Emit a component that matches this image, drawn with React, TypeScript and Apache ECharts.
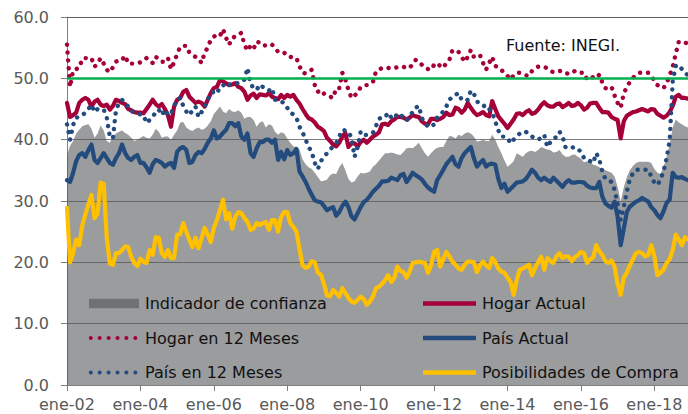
import React, { useEffect, useRef } from "react";
import * as echarts from "echarts";

const meses = ["ene", "feb", "mar", "abr", "may", "jun", "jul", "ago", "sep", "oct", "nov", "dic"];
const anios = ["02", "03", "04", "05", "06", "07", "08", "09", "10", "11", "12", "13", "14", "15", "16", "17", "18"];
const categorias = anios.flatMap((a) => meses.map((m) => `${m}-${a}`));

// Indicador de confianza (área)
const indicadorConfianza = [
  37.5, 39.0, 39.8, 41.0, 41.6, 42.2, 42.4, 42.5, 41.8, 40.3, 41.0, 42.3,
  41.5, 39.8, 39.5, 40.5, 41.0, 41.3, 41.5, 41.1, 40.8, 40.3, 39.8, 40.0,
  40.3, 40.6, 40.3, 40.2, 40.8, 41.8, 41.3, 40.3, 40.5, 40.5, 40.0, 40.8,
  41.5, 42.8, 42.9, 42.0, 41.6, 41.4, 41.8, 42.0, 41.6, 41.8, 42.3, 43.0,
  44.2, 44.8, 45.4, 44.6, 44.3, 45.0, 44.6, 44.5, 44.8, 44.4, 43.4, 43.7,
  43.7, 43.2, 42.1, 42.8, 43.0, 42.0, 42.5, 42.3, 41.3, 40.8, 41.2, 41.0,
  40.2, 39.5, 38.9, 38.8, 38.4, 36.8, 36.0, 35.5, 35.2, 34.6, 33.9, 33.2,
  33.3, 33.5, 34.2, 34.5, 34.4, 35.5, 36.2, 35.0, 33.6, 33.0, 33.2, 34.0,
  34.6, 34.5, 34.6, 34.8, 35.6, 36.0, 36.6, 37.2, 37.8, 37.8, 37.9, 37.8,
  37.6, 37.5, 38.0, 38.6, 38.7, 38.6, 39.0, 39.5, 38.6, 37.8, 37.2, 37.8,
  38.3, 38.7, 38.8, 38.8, 39.8, 40.6, 40.5, 40.2, 40.8, 40.6, 41.0, 41.2,
  41.0, 40.5, 39.7, 39.8, 40.0, 39.8, 39.8, 40.8, 40.0, 38.8, 37.8, 36.6,
  35.6, 36.0, 36.5, 37.8, 37.5, 37.2, 37.8, 38.1, 38.2, 38.0, 38.3, 38.8,
  38.6, 38.4, 38.3, 37.9, 38.0, 38.3, 37.6, 37.2, 37.2, 37.5, 37.6, 37.2,
  36.9, 36.3, 36.5, 36.4, 35.9, 35.8, 35.5, 35.2, 35.0, 34.8, 34.6, 34.0,
  32.3, 29.9, 32.2, 33.9, 35.0, 35.7, 36.2, 36.4, 36.4, 36.4, 36.4, 36.2,
  35.2, 34.6, 34.4, 35.5, 37.2, 39.2, 42.0, 43.3, 42.8, 42.5, 42.2, 42.0,
];

const hogarActual = [
  46.0, 43.7, 44.0, 44.4, 46.0, 46.5, 46.8, 46.5, 45.4, 46.2, 46.5, 45.7,
  45.5, 45.7, 44.9, 45.5, 46.5, 46.3, 46.0, 45.8, 45.0, 44.8, 44.5, 44.4,
  44.4, 44.3, 45.0, 45.7, 46.5, 45.8, 45.4, 45.8, 45.0, 44.0, 42.1, 45.4,
  46.5, 46.8, 47.8, 48.1, 47.0, 46.5, 46.0, 46.2, 46.0, 45.4, 46.5, 47.6,
  48.4, 48.6, 49.7, 49.5, 49.2, 48.9, 49.0, 49.2, 48.6, 48.4, 47.8, 46.5,
  47.2, 47.5, 46.8, 47.4, 47.3, 47.2, 47.6, 47.0, 46.8, 46.6, 47.3, 46.8,
  47.3, 47.0, 47.3, 46.5, 45.9, 45.0, 44.2, 43.5, 43.3, 42.8, 42.1, 41.8,
  41.4, 40.3, 39.8, 39.2, 38.9, 39.5, 40.5, 41.1, 38.8, 39.4, 39.4, 38.9,
  39.6, 40.0, 39.5, 40.0, 40.5, 40.8, 41.2, 42.5, 42.6, 42.4, 43.0, 43.3,
  43.7, 43.7, 43.6, 43.3, 43.6, 44.0, 43.8, 43.7, 43.0, 42.6, 42.5, 43.4,
  43.4, 43.2, 43.4, 43.7, 44.4, 44.0, 44.1, 45.2, 45.0, 44.4, 44.9, 46.0,
  45.2, 44.5, 44.0, 44.2, 44.5, 44.0, 43.8, 46.3, 45.0, 43.8, 43.2, 42.6,
  41.9, 42.6, 43.3, 44.2, 44.3, 44.0, 44.5, 44.8, 44.2, 44.4, 44.9, 45.6,
  46.1, 45.6, 45.4, 45.4, 45.8, 45.9, 45.3, 45.6, 46.0, 45.5, 45.6, 46.0,
  45.6, 44.9, 45.2, 45.9, 46.0, 46.0, 45.2, 44.5, 44.5, 44.4, 43.7, 43.4,
  43.2, 40.2, 43.0, 43.9, 44.2, 44.5, 44.6, 44.8, 45.0, 44.8, 44.6, 45.0,
  44.9, 44.2, 43.9, 43.6, 43.9, 44.5, 45.5, 47.0, 47.3, 46.8, 46.8, 46.7,
];

const hogar12Meses = [
  55.5, 48.6, 51.3, 51.5, 51.7, 53.2, 53.3, 53.3, 53.3, 51.9, 52.4, 53.3,
  52.4, 51.4, 51.0, 51.8, 52.7, 53.0, 53.0, 53.7, 52.4, 52.4, 52.4, 52.5,
  52.6, 52.9, 53.3, 53.0, 52.5, 53.5, 53.2, 52.7, 52.7, 53.3, 51.5, 52.6,
  54.0, 55.1, 55.3, 55.3, 54.2, 53.8, 53.5, 53.2, 52.5, 54.2, 55.0, 56.3,
  56.8, 57.1, 56.9, 58.0, 56.6, 55.5, 56.6, 56.8, 57.2, 57.4, 55.5, 54.5,
  55.3, 54.8, 56.0, 55.8, 55.3, 55.4, 55.3, 55.5, 55.0, 54.3, 54.3, 54.2,
  53.6, 53.5, 53.4, 53.3, 52.0, 50.9, 50.8, 51.1, 51.4, 48.9, 47.8, 48.1,
  47.5, 47.3, 47.0, 46.8, 48.4, 48.4, 50.9, 49.8, 48.1, 46.8, 47.2, 47.6,
  48.6, 48.8, 48.9, 49.1, 49.4, 51.1, 51.4, 51.7, 51.7, 51.7, 51.6, 51.7,
  51.8, 51.9, 51.9, 51.6, 51.8, 52.2, 53.0, 52.8, 52.2, 51.7, 51.5, 51.4,
  52.2, 52.5, 52.0, 51.7, 52.5, 53.0, 54.6, 54.4, 54.3, 53.5, 52.7, 53.5,
  54.6, 53.5, 53.6, 53.8, 52.5, 51.4, 52.5, 53.5, 52.0, 51.8, 51.4, 50.8,
  50.4, 49.8, 50.5, 50.9, 50.9, 50.7, 50.5, 50.4, 51.2, 51.6, 51.9, 51.9,
  51.9, 51.6, 51.2, 51.0, 51.2, 51.2, 51.2, 50.9, 50.7, 50.9, 51.2, 51.2,
  50.9, 50.9, 49.8, 50.0, 50.2, 50.0, 50.6, 49.3, 48.4, 48.3, 48.6, 47.2,
  46.0, 45.2, 47.5, 48.6, 49.4, 50.1, 50.5, 50.9, 50.9, 50.9, 50.9, 50.4,
  49.6, 48.9, 48.6, 48.4, 49.2, 50.5, 51.9, 54.0, 56.0, 55.9, 55.8, 55.7,
];

const paisActual = [
  33.4, 33.1, 34.6, 36.5, 37.5, 37.8, 37.2, 38.3, 39.2, 36.7, 36.2, 37.0,
  37.8, 37.0, 36.2, 35.9, 37.0, 37.8, 39.2, 37.8, 37.0, 36.7, 37.2, 37.5,
  36.2, 36.2, 35.5, 34.6, 36.0, 36.7, 36.5, 36.2, 35.6, 36.0, 36.2, 35.4,
  38.0, 38.6, 38.8, 38.3, 36.2, 36.4, 37.5, 38.0, 37.8, 38.5, 39.5, 40.2,
  41.5, 40.2, 40.5, 41.1, 41.6, 42.7, 42.7, 42.2, 42.7, 40.5, 40.0, 41.0,
  37.8, 37.2, 38.6, 39.6, 39.6, 40.0, 40.0, 39.5, 40.0, 36.7, 38.0, 36.8,
  38.3, 37.5, 37.8, 38.5, 34.8, 34.0, 33.1, 32.0, 31.0, 30.1, 29.9, 29.8,
  29.2, 28.5, 28.8, 29.0, 27.6, 28.2, 29.2, 29.9, 29.0, 27.5, 27.0, 28.0,
  29.0, 29.8, 30.2, 30.8, 31.5, 32.0, 32.5, 33.2, 33.2, 33.3, 33.8, 33.6,
  33.4, 34.2, 34.4, 33.1, 33.8, 34.6, 34.2, 33.9, 33.5, 32.8, 32.2, 31.8,
  31.5, 33.4, 34.2, 35.1, 36.0, 36.6, 37.2, 36.0, 35.6, 37.0, 37.8, 38.3,
  38.8, 37.0, 35.6, 36.2, 36.7, 35.6, 36.0, 36.1, 35.9, 33.6, 32.1, 32.8,
  31.5, 32.0, 32.5, 33.0, 33.1, 33.2, 33.6, 34.3, 35.1, 34.6, 33.8, 33.4,
  33.8, 33.4, 33.1, 33.8, 33.3, 32.8, 32.3, 33.0, 33.4, 33.0, 33.0, 33.1,
  33.1, 33.0, 32.5, 32.2, 32.1, 32.1, 33.1, 30.7, 29.6, 29.2, 28.9, 29.9,
  27.4, 22.8, 25.5, 28.2, 29.1, 29.5, 29.9, 30.1, 30.5, 30.2, 29.9, 29.0,
  28.5, 27.7, 27.2, 28.3, 29.7, 30.2, 34.6, 33.9, 33.8, 33.9, 33.6, 33.4,
];

const pais12Meses = [
  42.5, 40.0, 42.4, 43.6, 43.7, 44.0, 44.4, 45.0, 45.7, 44.5, 45.0, 44.9,
  44.9, 43.6, 40.5, 40.2, 44.8, 46.0, 46.5, 46.0, 45.4, 44.6, 44.5, 44.3,
  44.1, 44.0, 42.7, 43.2, 43.7, 44.5, 44.9, 44.0, 44.9, 44.0, 44.2, 45.5,
  46.5, 46.8, 45.5, 44.6, 44.0, 44.8, 45.4, 43.7, 44.5, 45.4, 46.5, 47.6,
  47.8, 47.5, 48.6, 48.8, 49.3, 49.0, 49.0, 49.0, 49.3, 49.4, 49.8, 51.7,
  49.0, 48.5, 48.1, 49.0, 48.6, 48.4, 48.0, 48.4, 46.5, 46.5, 46.2, 46.0,
  45.2, 44.4, 44.1, 43.6, 42.1, 41.2, 40.0, 38.8, 38.0, 36.2, 35.2, 36.5,
  37.2, 37.8, 38.4, 38.9, 39.4, 40.5, 41.6, 41.5, 41.3, 40.3, 37.2, 38.8,
  41.3, 40.7, 40.8, 41.0, 41.1, 42.2, 43.4, 43.7, 43.7, 44.4, 43.6, 43.4,
  44.3, 44.0, 43.7, 43.1, 43.8, 44.5, 45.2, 45.5, 43.5, 42.8, 42.1, 42.1,
  42.5, 43.6, 44.0, 44.6, 45.4, 46.5, 47.0, 47.3, 47.6, 46.5, 46.3, 46.5,
  48.0, 47.5, 46.2, 46.0, 45.8, 44.9, 45.0, 44.4, 43.0, 41.5, 40.5, 40.5,
  40.3, 39.4, 40.0, 40.5, 41.0, 41.3, 41.3, 40.8, 40.5, 40.2, 40.0, 40.3,
  40.8, 38.8, 39.6, 40.0, 40.5, 41.3, 40.5, 38.7, 38.7, 38.7, 38.8, 38.5,
  38.0, 37.0, 36.8, 36.5, 36.2, 37.8, 36.8, 34.8, 33.6, 33.4, 33.1, 31.8,
  29.5, 26.9, 29.0, 31.5, 33.6, 34.5, 35.1, 35.1, 35.1, 35.1, 35.1, 34.0,
  33.0, 32.6, 33.5, 34.8, 37.0, 39.8, 49.5, 52.0, 52.2, 51.5, 50.9, 50.5,
];

const posibilidadesCompra = [
  28.9, 20.0, 21.5, 23.7, 22.8, 26.0, 27.8, 29.5, 31.0, 27.2, 28.0, 33.0,
  32.8, 24.0, 19.8, 19.6, 21.5, 21.5, 22.0, 22.6, 22.5, 20.9, 19.9, 19.4,
  20.6, 20.1, 19.9, 22.0, 21.2, 24.1, 24.0, 21.5, 20.9, 22.0, 20.7, 20.7,
  24.5, 24.6, 26.4, 25.0, 23.7, 22.5, 24.0, 22.3, 24.0, 25.6, 24.5, 23.3,
  25.6, 26.9, 28.5, 30.2, 27.0, 28.0, 25.5, 27.4, 28.2, 28.0, 27.2, 26.6,
  25.3, 25.5, 26.4, 26.1, 26.4, 26.6, 25.3, 26.9, 26.9, 25.0, 27.4, 28.2,
  28.2, 26.4, 25.8, 25.0, 22.2, 19.5, 19.1, 19.3, 20.2, 20.0, 18.3, 18.0,
  16.5, 14.6, 14.5, 15.5, 15.0, 14.4, 15.8, 15.0, 14.2, 13.6, 13.4, 13.9,
  14.4, 14.0, 13.1, 13.6, 14.4, 15.8, 16.0, 16.5, 17.1, 17.9, 16.8, 17.5,
  19.3, 18.6, 18.4, 17.5, 18.5, 19.9, 20.0, 20.1, 20.0, 19.9, 18.3, 19.5,
  21.7, 22.0, 19.3, 20.5, 21.7, 21.0, 20.1, 19.6, 19.0, 18.8, 19.6, 20.1,
  20.1, 20.0, 18.4, 19.5, 20.1, 19.5, 19.1, 20.7, 20.0, 19.0, 18.5, 18.3,
  17.5, 16.8, 14.7, 17.1, 18.8, 19.0, 19.3, 19.6, 17.9, 19.1, 20.0, 20.9,
  18.8, 20.7, 20.2, 19.9, 21.0, 21.5, 20.7, 21.0, 20.9, 20.2, 20.8, 21.2,
  21.7, 21.5, 19.9, 20.5, 20.8, 22.8, 21.8, 21.2, 20.2, 19.9, 20.3, 19.3,
  16.5, 14.7, 17.5, 18.3, 19.5, 20.5, 21.5, 21.7, 21.5, 21.0, 21.2, 22.8,
  21.0, 17.9, 18.3, 18.8, 19.9, 20.5, 22.0, 24.5, 23.7, 22.8, 24.1, 23.7,
];

const umbral = 50;
const fuente = "Fuente: INEGI.";

const ROJO = "#a5003a";
const AZUL = "#234b7e";
const AMARILLO = "#ffc000";
const VERDE = "#00b050";
const FONT = "DejaVu Sans";

const leyenda = [
  { name: "Indicador de confianza", kind: "area", color: "#707173", col: 0, row: 0 },
  { name: "Hogar en 12 Meses", kind: "dots", color: ROJO, col: 0, row: 1 },
  { name: "País en 12 Meses", kind: "dots", color: AZUL, col: 0, row: 2 },
  { name: "Hogar Actual", kind: "line", color: ROJO, col: 1, row: 0 },
  { name: "País Actual", kind: "line", color: AZUL, col: 1, row: 1 },
  { name: "Posibilidades de Compra", kind: "line", color: AMARILLO, col: 1, row: 2 },
];

function buildLegend() {
  const rowsY = [303.5, 338, 372.5];
  const iconX = [89, 423];
  const textX = [145, 482];
  const els: any[] = [];
  leyenda.forEach((it) => {
    const y = rowsY[it.row];
    const x0 = iconX[it.col];
    if (it.kind === "area") {
      els.push({ type: "rect", shape: { x: x0, y: y - 4.7, width: 50, height: 9.4 }, style: { fill: it.color }, z: 100 });
    } else if (it.kind === "dots") {
      for (let k = 0; k < 6; k++) {
        els.push({ type: "circle", shape: { cx: x0 + 1.8 + k * 8.9, cy: y, r: 2 }, style: { fill: it.color }, z: 100 });
      }
    } else {
      els.push({ type: "line", shape: { x1: x0, y1: y, x2: x0 + 53, y2: y }, style: { stroke: it.color, lineWidth: 4.5 }, z: 100 });
    }
    els.push({
      type: "text",
      x: textX[it.col],
      y,
      z: 100,
      style: { text: it.name, fill: "#111111", fontSize: 16, fontFamily: FONT, verticalAlign: "middle", align: "left" },
    });
  });
  els.push({
    type: "text",
    x: 506,
    y: 45,
    z: 100,
    style: { text: fuente, fill: "#111111", fontSize: 16, fontFamily: FONT, verticalAlign: "middle", align: "left" },
  });
  return els;
}

const solid = (color: string) => ({ color, width: 4.2, cap: "round", join: "round" });
const dotted = (color: string) => ({ color, width: 4.4, type: [0.1, 7.8], cap: "round", join: "round" });

export default function App() {
  const ref = useRef<HTMLDivElement>(null);
  useEffect(() => {
    if (!ref.current) return;
    const chart = echarts.init(ref.current, null, { renderer: "svg" });
    chart.setOption({
      animation: false,
      textStyle: { fontFamily: FONT },
      grid: { left: 67, right: 0, top: 17, bottom: 29, containLabel: false, outerBoundsMode: "none" },
      xAxis: {
        type: "category",
        data: categorias,
        boundaryGap: false,
        axisLine: { show: true, lineStyle: { color: "#7f7f7f", width: 1 } },
        axisTick: { show: true, interval: 23, length: 6, lineStyle: { color: "#7f7f7f" } },
        axisLabel: { interval: 23, margin: 11, color: "#595959", fontSize: 16, fontFamily: FONT, lineHeight: 16 },
        splitLine: { show: false },
      },
      yAxis: {
        type: "value",
        min: 0,
        max: 60,
        interval: 10,
        axisLine: { show: true, lineStyle: { color: "#7f7f7f", width: 1 } },
        axisTick: { show: true, length: 6, lineStyle: { color: "#7f7f7f" } },
        axisLabel: {
          margin: 18,
          color: "#595959",
          fontSize: 16,
          fontFamily: FONT,
          formatter: (v: number) => v.toFixed(1),
        },
        splitLine: {
          show: true,
          lineStyle: { color: ["#7f7f7f", "#7f7f7f", "#7f7f7f", "#7f7f7f", "#7f7f7f", "#7f7f7f", "#5f5f5f"], width: 1.2 },
        },
      },
      series: [
        {
          name: "Indicador de confianza",
          type: "line",
          data: indicadorConfianza,
          symbol: "none",
          z: 1,
          lineStyle: { width: 0 },
          areaStyle: { color: "rgba(83,85,88,0.58)", opacity: 1 },
          markLine: {
            silent: true,
            symbol: "none",
            label: { show: false },
            lineStyle: { color: VERDE, width: 2.5, type: "solid" },
            data: [{ yAxis: umbral }],
          },
        },
        { name: "Hogar Actual", type: "line", data: hogarActual, symbol: "none", z: 3, lineStyle: solid(ROJO) },
        { name: "País Actual", type: "line", data: paisActual, symbol: "none", z: 3, lineStyle: solid(AZUL) },
        { name: "Posibilidades de Compra", type: "line", data: posibilidadesCompra, symbol: "none", z: 3, lineStyle: solid(AMARILLO) },
        { name: "Hogar en 12 Meses", type: "line", data: hogar12Meses, symbol: "none", z: 4, lineStyle: dotted(ROJO) },
        { name: "País en 12 Meses", type: "line", data: pais12Meses, symbol: "none", z: 4, lineStyle: dotted(AZUL) },
      ],
      graphic: buildLegend(),
    });
    return () => chart.dispose();
  }, []);
  return <div ref={ref} style={{ position: "absolute", left: 0, top: 0, width: 688, height: 414 }} />;
}
